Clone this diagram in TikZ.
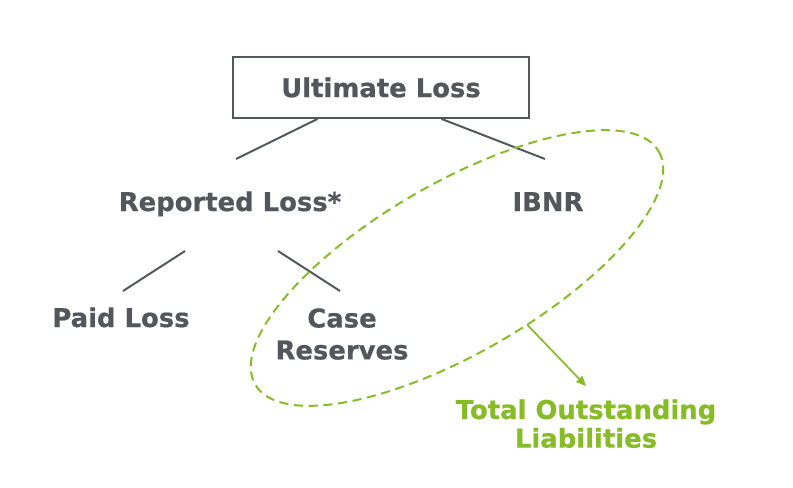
\documentclass[tikz,border=0pt]{standalone}
\usepackage{fontspec}
\setmainfont{DejaVu Sans}[BoldFeatures={FakeBold=0.6}]
\definecolor{gris}{RGB}{83,86,90}
\definecolor{vert}{RGB}{134,188,37}
\usetikzlibrary{arrows.meta,calc}

\begin{document}
\begin{tikzpicture}[x=0.025cm,y=-0.025cm,font=\fontsize{18.4}{22.7}\selectfont\bfseries,
		lbl/.style={text=gris,inner sep=0pt,align=center},
		lien/.style={gris,line width=1.4pt}]
				\useasboundingbox (0,0) rectangle (793,487);
				\node[draw=gris,line width=1.3pt,text=gris,minimum width=7.4cm,minimum height=1.525cm] (ult) at (381,87.5) {Ultimate Loss};
				\node[lbl,anchor=base] (rep) at (230,211) {Reported Loss*};
				\node[lbl,anchor=base] (ibnr) at (548,211) {IBNR};
				\node[lbl,anchor=base] (paid) at (121,327) {Paid Loss};
				\node[lbl,anchor=north] (case) at (342,308) {Case\\Reserves};
				
				\draw[lien] ($(ult.south west)!.287!(ult.south east)$) -- ($(rep.base)+(6,-52)$);
				\draw[lien] ($(ult.south west)!.703!(ult.south east)$) -- ($(ibnr.base)+(-3,-52)$);
				\draw[lien] ($(rep.base)+(-45,40)$) -- ($(paid.base)+(2,-36)$);
				\draw[lien] ($(rep.base)+(48,40)$) -- ($(case.north)+(-2,-17)$);
				
				\coordinate (ovC) at (457,268);
				\draw[vert,line width=1.4pt,dash pattern=on 6.5pt off 4pt,rotate around={30:(ovC)}] (ovC) ellipse [x radius=233,y radius=85];
				\path[rotate around={30:(ovC)}] (ovC) ++(82:233 and 85) coordinate (ovPt);
				\node[lbl,text=vert,anchor=north,font=\fontsize{18.4}{20.4}\selectfont\bfseries] (tol) at (586,399) {Total Outstanding\\Liabilities};
				\draw[vert,line width=1.2pt,-{Triangle[length=7pt,width=6pt]}] (ovPt) -- ($(tol.north)+(0,-13)$);
			\end{tikzpicture}
\end{document}
